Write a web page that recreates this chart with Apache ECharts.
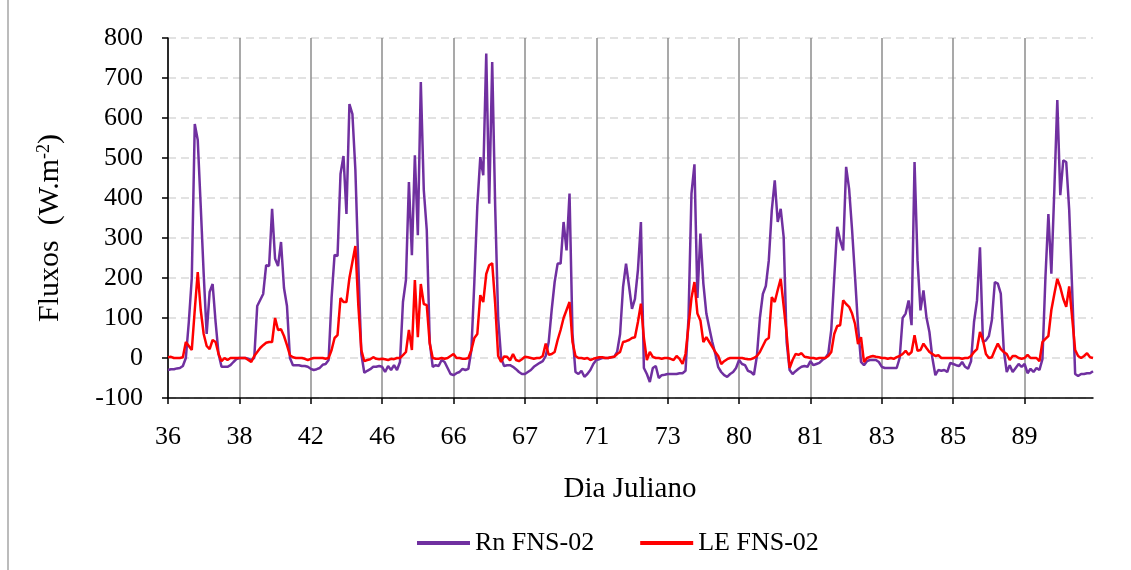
<!DOCTYPE html>
<html>
<head>
<meta charset="utf-8">
<script src="https://cdn.jsdelivr.net/npm/echarts@6/dist/echarts.min.js"></script>
<style>
html,body{margin:0;padding:0;background:#fff;}
#chart{width:1131px;height:570px;}
</style>
</head>
<body>
<div id="chart"></div>
<script>
// Julian days (one label per 24 hourly samples)
const days = ['36','38','42','46','66','67','71','73','80','81','83','85','89'];
const yTicks = [-100,0,100,200,300,400,500,600,700,800];

// Rn FNS-02 (W.m-2), 24 hourly values per day
const rn = [
  -30,-28,-28,-26,-25,-20,0,90,200,585,545,380,210,60,165,185,90,10,-22,-22,-22,-18,-10,-3,
  0,0,0,-2,-5,0,130,145,160,232,230,373,248,230,290,175,130,0,-18,-18,-18,-20,-20,-22,
  -27,-30,-28,-25,-17,-15,-5,150,258,255,460,505,360,635,610,470,230,10,-37,-32,-28,-22,-22,-20,
  -22,-35,-20,-30,-18,-30,-10,140,195,440,257,507,307,690,420,320,40,-22,-18,-20,-5,-10,-25,-40,
  -43,-38,-35,-27,-30,-27,20,190,380,502,457,761,386,740,380,100,0,-20,-18,-18,-22,-28,-35,-40,
  -40,-35,-30,-22,-17,-12,-8,5,40,120,190,236,236,340,269,411,60,-35,-40,-32,-47,-40,-30,-15,
  -5,-3,0,0,0,2,3,15,60,178,236,180,123,148,220,340,-25,-40,-60,-25,-20,-50,-43,-42,
  -40,-40,-40,-40,-38,-38,-32,100,411,484,150,311,186,111,75,40,11,-23,-35,-43,-47,-40,-35,-25,
  -5,-15,-18,-32,-35,-42,5,100,160,180,244,369,444,340,373,302,40,-30,-40,-33,-27,-22,-20,-22,
  -8,-18,-15,-12,-5,0,11,70,200,328,294,269,478,423,320,202,80,-10,-18,-8,-5,-5,-5,-10,
  -22,-25,-25,-25,-25,-25,0,100,111,144,82,490,244,119,169,102,65,0,-43,-30,-32,-30,-35,-12,
  -15,-18,-20,-10,-22,-27,-8,90,144,277,40,44,55,95,190,186,161,20,-35,-18,-35,-25,-15,-22,
  -15,-38,-27,-35,-25,-30,-3,200,360,211,420,645,407,494,490,370,170,-40,-45,-40,-40,-38,-38,-33
];

// LE FNS-02 (W.m-2), 24 hourly values per day
const le = [
  2,3,0,0,0,2,40,30,20,120,215,120,60,30,22,45,40,10,-8,0,-5,0,0,0,
  0,0,0,-5,-10,5,15,25,32,38,40,40,100,70,72,55,32,7,2,0,0,0,-2,-5,
  -2,0,0,0,0,-2,0,20,50,57,150,140,140,200,240,280,130,20,-8,-5,-3,2,-2,-3,
  -2,-3,-5,-2,-3,0,0,7,15,70,20,195,52,185,135,132,36,0,-2,-2,0,-2,0,5,
  10,0,0,-2,-2,0,20,50,60,157,140,210,232,237,136,5,-10,4,3,-6,10,-5,-8,-3,
  3,2,0,-2,0,0,5,36,8,10,15,45,70,100,120,140,40,5,0,0,-2,0,-5,-2,
  0,2,2,0,0,2,3,10,15,40,42,45,50,52,90,136,50,-5,15,3,0,0,-2,0,
  0,-2,-5,5,-2,-15,10,80,150,190,111,94,40,52,40,28,15,5,-15,-8,-3,0,0,0,
  0,0,-2,-3,-3,0,5,15,30,45,50,152,140,170,198,130,60,-25,-5,10,8,12,3,2,
  0,0,-2,0,0,0,5,15,60,80,82,144,135,128,111,85,35,52,-10,0,3,5,3,2,
  0,0,-2,0,-2,2,5,10,18,8,15,57,18,20,36,25,15,10,5,7,0,0,0,0,
  0,0,0,-2,0,0,5,15,22,65,45,10,0,2,20,36,22,15,10,-5,5,5,0,-2,
  0,8,0,0,0,-8,40,48,55,120,160,198,177,148,128,179,100,20,5,0,5,12,2,0
];

const HOURS = 24;
const categories = rn.map((_, i) => days[Math.floor(i / HOURS)] + '-' + (i % HOURS));
const isDayStart = (i) => i % HOURS === 0;
const FONT = 'Liberation Serif';

const chart = echarts.init(document.getElementById('chart'), null, {renderer: 'canvas'});
chart.setOption({
  animation: false,
  backgroundColor: '#fff',
  grid: {left: 168, right: 38, top: 38, bottom: 172, containLabel: false},
  xAxis: {
    type: 'category',
    data: categories,
    boundaryGap: false,
    axisLine: {onZero: false, lineStyle: {color: '#000', width: 1.5}},
    axisTick: {show: true, interval: isDayStart, length: 6, lineStyle: {color: '#000', width: 1.5}},
    axisLabel: {
      interval: isDayStart,
      formatter: (v) => v.split('-')[0],
      color: '#000', fontFamily: FONT, fontSize: 26, margin: 26
    },
    splitLine: {show: true, interval: isDayStart, lineStyle: {color: '#8c8c8c', width: 1.5}}
  },
  yAxis: {
    type: 'value',
    min: yTicks[0], max: yTicks[yTicks.length - 1], interval: 100,
    axisLine: {show: true, lineStyle: {color: '#000', width: 1.5}},
    axisTick: {show: true, length: 6, lineStyle: {color: '#000', width: 1.5}},
    axisLabel: {color: '#000', fontFamily: FONT, fontSize: 26, margin: 25},
    splitLine: {show: true, lineStyle: {color: '#d9d9d9', width: 1.5, type: [8, 5]}}
  },
  legend: {
    data: ['Rn FNS-02', 'LE FNS-02'],
    left: 417, top: 530, padding: 0,
    icon: 'rect',
    itemWidth: 53, itemHeight: 4, itemGap: 46,
    textStyle: {color: '#000', fontFamily: FONT, fontSize: 26}
  },
  graphic: [
    {type: 'line', shape: {x1: 8, y1: 0, x2: 8, y2: 570}, style: {stroke: '#a6a6a6', lineWidth: 1.5}},
    {type: 'text', x: 630, y: 489,
     style: {text: 'Dia Juliano', font: '29px "Liberation Serif"', fill: '#000', align: 'center', verticalAlign: 'middle'}},
    {type: 'text', x: 50, y: 228, rotation: Math.PI / 2,
     style: {
       text: '{a|Fluxos  (W.m}{s|-2}{a|)}',
       align: 'center', verticalAlign: 'middle',
       rich: {
         a: {fontFamily: FONT, fontSize: 30, fill: '#000', color: '#000'},
         s: {fontFamily: FONT, fontSize: 18, fill: '#000', color: '#000', verticalAlign: 'top', padding: [0, 0, 12, 0]}
       }
     }}
  ],
  series: [
    {name: 'Rn FNS-02', type: 'line', data: rn, symbol: 'none', lineStyle: {color: '#7030A0', width: 2.5}, itemStyle: {color: '#7030A0'}},
    {name: 'LE FNS-02', type: 'line', data: le, symbol: 'none', lineStyle: {color: '#FF0000', width: 2.5}, itemStyle: {color: '#FF0000'}}
  ]
});
</script>
</body>
</html>
